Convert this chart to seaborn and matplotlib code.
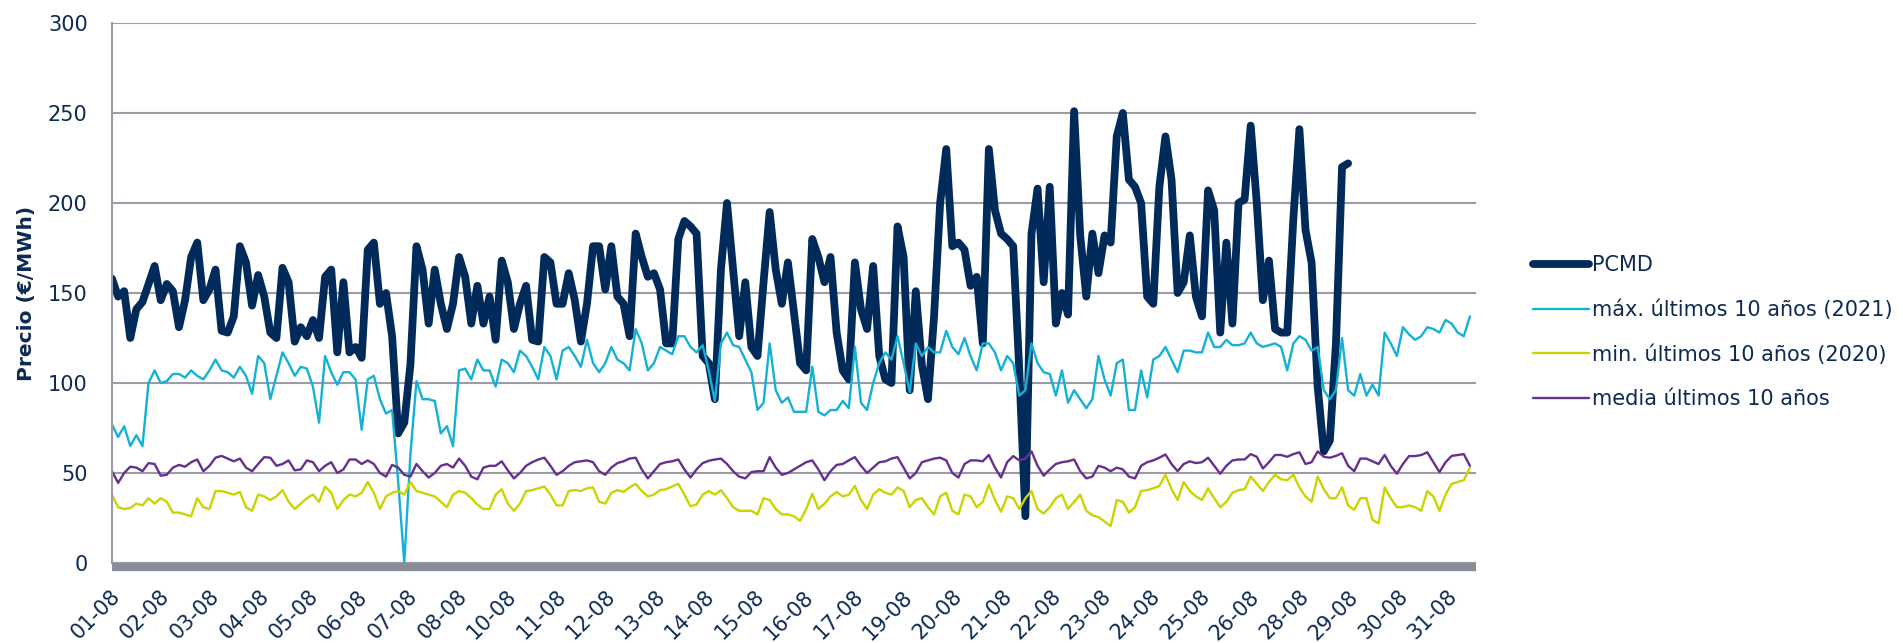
import matplotlib
matplotlib.use("Agg")
import numpy as np
import matplotlib.pyplot as plt
import matplotlib.transforms as mtrans
import seaborn as sns

# %% — Data (one sample every ~3 h)
day_labels = ["01-08", "02-08", "03-08", "04-08", "05-08", "06-08", "07-08",
              "08-08", "10-08", "11-08", "12-08", "13-08", "14-08", "15-08",
              "16-08", "17-08", "19-08", "20-08", "21-08", "22-08", "23-08",
              "24-08", "25-08", "26-08", "28-08", "29-08", "30-08", "31-08"]

pcmd = [158, 148, 151, 125, 141, 145, 155, 165,
        146, 155, 151, 131, 146, 170, 178, 146,
        152, 163, 129, 128, 137, 176, 167, 143,
        160, 148, 128, 125, 164, 156, 123, 131,
        126, 135, 125, 159, 163, 117, 156, 117,
        120, 114, 174, 178, 144, 150, 126, 72,
        78, 110, 176, 163, 133, 163, 144, 130,
        144, 170, 159, 133, 154, 133, 148, 124,
        168, 156, 130, 144, 154, 124, 123, 170,
        167, 144, 144, 161, 146, 123, 144, 176,
        176, 152, 176, 148, 144, 126, 183, 170,
        159, 161, 152, 122, 122, 180, 190, 187,
        183, 115, 111, 91, 163, 200, 163, 126,
        156, 120, 115, 156, 195, 163, 144, 167,
        139, 111, 107, 180, 170, 156, 170, 128,
        107, 102, 167, 141, 130, 165, 115, 102,
        100, 187, 170, 96, 151, 110, 91, 137,
        200, 230, 176, 178, 174, 154, 159, 122,
        230, 196, 183, 180, 176, 107, 26, 183,
        208, 156, 209, 133, 150, 138, 251, 182,
        148, 183, 161, 182, 178, 237, 250, 213,
        209, 200, 148, 144, 209, 237, 213, 150,
        156, 182, 148, 137, 207, 196, 128, 178,
        133, 200, 202, 243, 200, 146, 168, 130,
        128, 128, 191, 241, 185, 167, 98, 62,
        68, 122, 220, 222]

max_10y = [77, 70, 76, 65, 71, 65, 100, 107,
           100, 101, 105, 105, 103, 107, 104, 102,
           107, 113, 107, 106, 103, 109, 104, 94,
           115, 111, 91, 104, 117, 111, 104, 109,
           108, 98, 78, 115, 106, 99, 106, 106,
           102, 74, 102, 104, 91, 83, 85, 45,
           0, 60, 101, 91, 91, 90, 72, 76,
           65, 107, 108, 102, 113, 107, 107, 98,
           113, 111, 106, 118, 115, 109, 102, 120,
           115, 102, 118, 120, 115, 109, 124, 111,
           106, 111, 120, 113, 111, 107, 130, 122,
           107, 111, 120, 118, 116, 126, 126, 120,
           117, 121, 107, 90, 122, 128, 121, 120,
           113, 106, 85, 89, 122, 96, 89, 92,
           84, 84, 84, 109, 84, 82, 85, 85,
           90, 86, 120, 89, 85, 100, 111, 117,
           113, 126, 111, 95, 122, 115, 120, 117,
           117, 129, 120, 116, 125, 115, 107, 122,
           122, 117, 107, 115, 111, 93, 96, 122,
           111, 106, 105, 93, 107, 89, 96, 91,
           86, 91, 115, 102, 93, 111, 113, 85,
           85, 107, 92, 113, 115, 120, 113, 106,
           118, 118, 117, 117, 128, 120, 120, 124,
           121, 121, 122, 128, 122, 120, 121, 122,
           120, 107, 122, 126, 124, 118, 120, 96,
           91, 96, 125, 96, 93, 105, 93, 99,
           93, 128, 122, 115, 131, 127, 124, 126,
           131, 130, 128, 135, 133, 128, 126, 137]

min_10y = [38, 31, 30, 30.5, 33, 32, 36, 33,
           36, 34, 28, 28, 27, 26, 36, 31,
           30, 40, 40, 39, 38, 39.5, 31, 29,
           38, 37, 35, 37, 40.5, 34, 30, 33,
           36, 38, 34, 42.5, 39, 30, 35, 38,
           37, 39, 45, 39, 30, 37, 39, 40,
           38, 45, 40, 39, 38, 37, 34, 31,
           38, 40, 39, 36, 32.5, 30, 30, 38,
           41, 33, 29, 33, 40, 40.5, 41.5, 42.5,
           38, 32, 32, 40, 40.5, 40, 41.5, 42,
           34, 33, 39, 40.5, 39.5, 42, 44, 40,
           37, 38, 40.5, 41, 42.5, 44, 38, 31.5,
           32.5, 38, 40, 38, 40.5, 36, 31, 29,
           29, 29, 27, 36, 35, 30, 27, 27,
           26, 23.4, 30, 38.5, 30, 33, 37, 39.4,
           37, 38, 42.8, 35, 30, 38, 41, 39,
           38, 42, 40, 31, 35, 36, 31, 27,
           37, 39, 29, 27, 38, 37, 31, 34,
           43.5, 35, 28.5, 37, 36, 30, 36, 40,
           30, 27.5, 31, 36, 38, 30, 34, 38,
           29, 26.5, 25.5, 23, 20.5, 35, 34, 28,
           31, 40, 40.5, 41.5, 42.8, 49, 41, 35,
           45, 40, 37, 35, 41.5, 36, 31, 34,
           39, 40.5, 41, 48, 44, 40, 45, 49,
           46.5, 46, 49, 42, 37, 34, 48, 41,
           36, 36, 42, 32, 29.5, 36, 36, 24,
           22, 42, 36, 31, 31, 32, 31, 29,
           40, 37, 29, 38, 44, 45, 46, 53]

media_10y = [51, 44.5, 50, 53.5, 53, 51, 55.5, 55,
             48.5, 49, 53, 54.5, 53.5, 56, 57.5, 51,
             54, 58.5, 59.5, 58, 56.5, 58, 53, 51,
             55, 58.8, 58.5, 54, 55, 57, 51.5, 52,
             57, 56, 51, 54, 56, 50, 52, 57.5,
             57.5, 55, 57, 55, 50, 48, 54.5, 53,
             49, 48, 55, 51, 47.5, 50, 54, 55,
             53, 58, 54, 48, 46.5, 53, 54, 54,
             56.5, 51.5, 47, 50, 54, 56, 57.5, 58.5,
             54, 49, 51, 54, 56, 56.5, 57, 56,
             51, 49, 53, 55.5, 56.5, 58, 58.5, 52,
             47, 51, 55, 56, 56.5, 57.5, 52, 47.5,
             52, 55.5, 56.8, 57.5, 58, 55, 51, 48,
             47, 50.5, 51, 51, 58.8, 53, 49, 50,
             52, 54, 56, 57, 52, 46, 51, 54.5,
             55, 57, 58.8, 54, 50, 53, 56, 56.5,
             58, 58.8, 53, 47, 50, 56, 57, 58,
             58.5, 57, 50, 47.5, 55, 57, 57, 56.5,
             60, 53, 47.5, 56, 59.4, 57, 58, 62,
             54, 48.5, 52, 55, 56, 56.5, 57.5, 51,
             47, 48, 54, 53, 51, 53, 52, 48,
             47, 54, 56, 57, 58.5, 60.3, 55, 51,
             55, 56.5, 55.5, 56, 58.5, 54, 49.6, 54,
             57, 57.5, 57.5, 60.5, 59, 52.5, 56, 60,
             60, 59, 60.5, 61.5, 55, 56, 62, 59,
             58.5, 59.5, 61, 54, 51, 58, 58, 56.5,
             55, 60, 54, 49.6, 55, 59.4, 59.4, 60,
             61.5, 56, 50.5, 56, 59.5, 60, 60.5, 54]

# %% — Axis geometry (Excel category axis: 661 hours, a label every 24)
N_HOURS = 661
N_SLOTS = len(max_10y)
step = N_HOURS / N_SLOTS

NAVY = "#0d2a52"
GRID = "#9c9ca8"

series = [
    ("PCMD", pcmd, "#002a5a", 5.6),
    ("máx. últimos 10 años (2021)", max_10y, "#14b1d6", 1.7),
    ("min. últimos 10 años (2020)", min_10y, "#cbd400", 1.7),
    ("media últimos 10 años", media_10y, "#66308f", 1.7),
]

# %% — Plot
sns.set_style("white")
plt.rcParams["font.family"] = ["DejaVu Sans"]

fig = plt.figure(figsize=(19.03, 6.43), dpi=100)
ax = fig.add_axes([112 / 1903, 1 - 563 / 643, 1364 / 1903, 540 / 643])

for name, vals, color, lw in series:
    hours = np.arange(len(vals)) * step
    sns.lineplot(x=hours, y=vals, ax=ax, color=color, linewidth=lw,
                 label=name, solid_capstyle="round", solid_joinstyle="round")

ax.set_xlim(0, N_HOURS)
ax.set_ylim(0, 300)
ax.set_yticks(range(0, 301, 50))
ax.yaxis.grid(True, color=GRID, linewidth=1.5)
ax.xaxis.grid(False)
ax.set_axisbelow(True)

for side in ["top", "right"]:
    ax.spines[side].set_visible(False)
ax.spines["left"].set_color(GRID)
ax.spines["left"].set_linewidth(1.5)
ax.spines["bottom"].set_color("#8a8d96")
ax.spines["bottom"].set_linewidth(6)
ax.spines["bottom"].set_position(("outward", 3))
ax.spines["bottom"].set_capstyle("butt")

ax.set_xticks(np.arange(len(day_labels)) * 24)
ax.set_xticklabels(day_labels, rotation=45, ha="right", va="center",
                   rotation_mode="anchor")
ax.tick_params(axis="x", length=0, pad=19, labelsize=15, labelcolor=NAVY)
ax.tick_params(axis="y", length=6.5, width=1.5, color=GRID, pad=11,
               labelsize=15, labelcolor=NAVY)
# nudge the rotated day labels a few pixels to the right, as in the original
shift = mtrans.ScaledTranslation(5 / 100, 0, fig.dpi_scale_trans)
for lbl in ax.get_xticklabels():
    lbl.set_transform(lbl.get_transform() + shift)

ax.set_xlabel("")
ax.set_ylabel("Precio (€/MWh)", fontsize=14.5, fontweight="bold", color=NAVY)
ax.yaxis.set_label_coords(-0.056, 0.5)

leg = ax.legend(loc="upper left", bbox_to_anchor=(1533 / 1903, 1 - 255 / 643),
                bbox_transform=fig.transFigure, frameon=False, fontsize=15,
                handlelength=2.7, handletextpad=0.15, labelspacing=1.17,
                borderpad=0, borderaxespad=0)
for t in leg.get_texts():
    t.set_color(NAVY)

plt.savefig("out.png", dpi=100)
plt.close()
